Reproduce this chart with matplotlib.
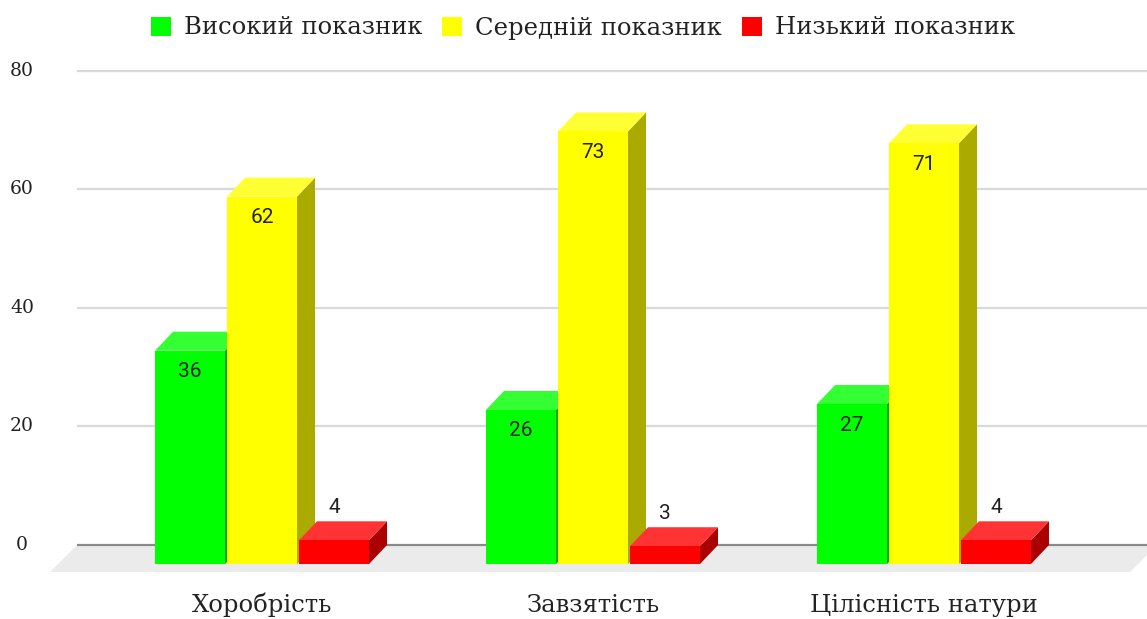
import matplotlib
matplotlib.use('Agg')
import matplotlib.pyplot as plt
from matplotlib.patches import Polygon, Rectangle, Patch
from matplotlib.transforms import ScaledTranslation, blended_transform_factory

# ---- data ----
categories = ['Хоробрість', 'Завзятість', 'Цілісність натури']
series_names = ['Високий показник', 'Середній показник', 'Низький показник']
high = [36, 26, 27]
medium = [62, 73, 71]
low = [4, 3, 4]
y_ticks = [0, 20, 40, 60, 80]

front_colors = ['#00ff00', '#ffff00', '#ff0000']
top_colors = ['#33ff33', '#ffff33', '#ff3333']
side_colors = ['#00aa00', '#aaaa00', '#aa0000']

series = [high, medium, low]

W, H, DPI = 1147, 619, 100
fig = plt.figure(figsize=(W / DPI, H / DPI), dpi=DPI)
fig.patch.set_facecolor('white')

serif = ['DejaVu Serif']
sans = ['Roboto', 'DejaVu Sans']
text_color = '#222222'

ax_left_px, ax_right_px = 53.5, 1132.5
ax_top_px, ax_bottom_px = 60, 572
ax = fig.add_axes([ax_left_px / W, (H - ax_bottom_px) / H,
                   (ax_right_px - ax_left_px) / W, (ax_bottom_px - ax_top_px) / H])
xlim = (-0.63, 2.63)
ylim = (-1.35, 85.06)
ax.set_xlim(xlim)
ax.set_ylim(ylim)
ax.axis('off')

px_per_x = (ax_right_px - ax_left_px) / (xlim[1] - xlim[0])
px_per_y = (ax_bottom_px - ax_top_px) / (ylim[1] - ylim[0])
depth_x_px, depth_y_px = 18, 19
ddx = depth_x_px / px_per_x
ddy = depth_y_px / px_per_y

back = ax.transData + ScaledTranslation(depth_x_px / DPI, depth_y_px / DPI, fig.dpi_scale_trans)

# floor
grid_x0 = xlim[0] + (77 - depth_x_px - ax_left_px) / px_per_x
grid_x1 = 2.65
floor_d_x = 27 / px_per_x
floor_d_y = 27 / px_per_y
floor = Polygon([(grid_x0 + ddx, ddy), (grid_x1 + ddx, ddy),
                 (grid_x1 + ddx - floor_d_x, ddy - floor_d_y),
                 (grid_x0 + ddx - floor_d_x, ddy - floor_d_y)],
                closed=True, facecolor='#ebebeb', edgecolor='none', zorder=0, clip_on=False)
ax.add_patch(floor)

# gridlines on back wall
ax.hlines(y_ticks[1:], grid_x0, grid_x1, transform=back, colors='#d9d9d9',
          linewidth=1.6, zorder=1, clip_on=False)
ax.hlines([0], grid_x0, grid_x1, transform=back, colors='#8a8a8a',
          linewidth=1.6, zorder=1, clip_on=False)

# y tick labels
ytrans = blended_transform_factory(fig.transFigure, back)
for v in y_ticks:
    ax.text(22 / W, v, str(v), transform=ytrans, ha='center', va='center',
            fontsize=13.5, family=serif, color=text_color, clip_on=False)

# bars
offsets = [-0.2175, 0.0, 0.2175]
width = 0.2115
z = 2
for i in range(len(categories)):
    for j, vals in enumerate(series):
        v = vals[i]
        x0 = i + offsets[j] - width / 2
        x1 = x0 + width
        side = Polygon([(x1, 0), (x1 + ddx, ddy), (x1 + ddx, v + ddy), (x1, v)],
                       closed=True, facecolor=side_colors[j], edgecolor='none', zorder=z)
        top = Polygon([(x0, v), (x1, v), (x1 + ddx, v + ddy), (x0 + ddx, v + ddy)],
                      closed=True, facecolor=top_colors[j], edgecolor='none', zorder=z)
        front = Rectangle((x0, 0), width, v, facecolor=front_colors[j],
                          edgecolor='none', zorder=z + 0.5)
        ax.add_patch(side)
        ax.add_patch(top)
        ax.add_patch(front)
        z += 1
        if v * px_per_y > 40:
            dy_pt = -21 * 72 / DPI
        else:
            dy_pt = 33 * 72 / DPI
        ax.annotate(str(v), xy=(x0 + width / 2, v), xytext=(0, dy_pt),
                    textcoords='offset points', ha='center', va='center',
                    fontsize=15, family=sans, color=text_color, zorder=100)

# category labels
ctrans = blended_transform_factory(ax.transData, fig.transFigure)
for i, c in enumerate(categories):
    ax.text(i, (H - 612) / H, c, transform=ctrans, ha='center', va='baseline',
            fontsize=17.5, family=serif, color=text_color, clip_on=False)

# legend
handles = [Patch(facecolor=c, edgecolor='none') for c in front_colors]
leg = fig.legend(handles, series_names, loc='center', bbox_to_anchor=(583 / W, 1 - 28 / H),
                 ncol=3, frameon=False, handlelength=0.82, handleheight=0.82,
                 handletextpad=0.55, columnspacing=0.8, borderpad=0,
                 prop={'family': serif, 'size': 17.5})
for t in leg.get_texts():
    t.set_color(text_color)

fig.savefig('out.png', dpi=DPI)
